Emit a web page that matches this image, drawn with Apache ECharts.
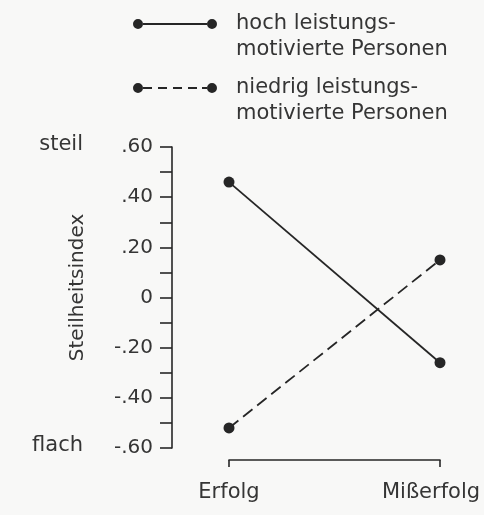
<!DOCTYPE html>
<html>
<head>
<meta charset="utf-8">
<script src="https://cdn.jsdelivr.net/npm/echarts@6/dist/echarts.min.js"></script>
<style>
html,body{margin:0;padding:0;background:#f8f8f7;}
#chart{width:484px;height:515px;}
</style>
</head>
<body>
<div id="chart"></div>
<script>
// ---- data ----
const categories = ['Erfolg', 'Mißerfolg'];
const seriesNames = ['hoch leistungs-\nmotivierte Personen', 'niedrig leistungs-\nmotivierte Personen'];
const hochValues = [0.46, -0.26];
const niedrigValues = [-0.52, 0.15];
const yTickValues = [-0.6, -0.4, -0.2, 0, 0.2, 0.4, 0.6];
const yTickLabels = ['-.60', '-.40', '-.20', '0', '.20', '.40', '.60'];
const yAxisName = 'Steilheitsindex';
const yEndLabels = ['flach', 'steil'];

// ---- style ----
const ink = '#262626';
const textInk = '#353535';
const font = 'DejaVu Sans';

const solidIcon = 'path://M0,5A5,5 0 1 1 10,5A5,5 0 1 1 0,5Z M10,4.1L74,4.1L74,5.9L10,5.9Z M74,5A5,5 0 1 1 84,5A5,5 0 1 1 74,5Z';
const dashedIcon = 'path://M0,5A5,5 0 1 1 10,5A5,5 0 1 1 0,5Z M10,4.1L19,4.1L19,5.9L10,5.9Z M25,4.1L34,4.1L34,5.9L25,5.9Z M40,4.1L49,4.1L49,5.9L40,5.9Z M55,4.1L64,4.1L64,5.9L55,5.9Z M69,4.1L74,4.1L74,5.9L69,5.9Z M74,5A5,5 0 1 1 84,5A5,5 0 1 1 74,5Z';

function legendCfg(name, icon, iconCenterY) {
  return {
    data: [name],
    icon: icon,
    left: 133,
    top: iconCenterY - 39,
    padding: 0,
    itemWidth: 84,
    itemHeight: 10,
    selectedMode: false,
    itemStyle: { borderWidth: 0 },
    // a blank first line keeps the first text line level with the icon
    formatter: function (n) { return ' \n' + n; },
    textStyle: {
      fontFamily: font, fontSize: 21, color: textInk,
      lineHeight: 26, padding: [0, 0, 0, 14]
    }
  };
}

const chart = echarts.init(document.getElementById('chart'), null, { renderer: 'canvas' });
chart.setOption({
  backgroundColor: '#f8f8f7',
  animation: false,
  textStyle: { fontFamily: font },
  legend: [
    legendCfg(seriesNames[0], solidIcon, 24),
    legendCfg(seriesNames[1], dashedIcon, 88)
  ],
  grid: { left: 229, right: 44, top: 147, bottom: 67, containLabel: false, outerBoundsMode: 'none' },
  xAxis: {
    type: 'category',
    data: categories,
    boundaryGap: false,
    offset: 12,
    axisLine: { show: true, onZero: false, lineStyle: { color: ink, width: 1.6 } },
    axisTick: { show: true, length: 7, lineStyle: { color: ink, width: 1.6 } },
    axisLabel: {
      margin: 22, fontSize: 21, color: textInk, fontFamily: font,
      formatter: function (v) { return v === categories[categories.length - 1] ? '{r|' + v + '}' : v; },
      rich: { r: { fontSize: 21, color: textInk, fontFamily: font, padding: [0, 18, 0, 0] } }
    },
    splitLine: { show: false }
  },
  yAxis: {
    type: 'value',
    min: -0.6, max: 0.6, interval: 0.2,
    offset: 57,
    name: yAxisName,
    nameLocation: 'middle',
    nameRotate: 90,
    nameGap: 84,
    nameTextStyle: { fontSize: 20, color: textInk, fontFamily: font, padding: [0, 0, 0, 20] },
    axisLine: { show: true, lineStyle: { color: ink, width: 1.6 } },
    axisTick: { show: true, length: 12, lineStyle: { color: ink, width: 1.6 } },
    minorTick: { show: true, splitNumber: 2, length: 12, lineStyle: { color: ink, width: 1.6 } },
    splitLine: { show: false },
    minorSplitLine: { show: false },
    axisLabel: {
      margin: 19, fontSize: 20, color: textInk, fontFamily: font,
      formatter: function (v) {
        for (let i = 0; i < yTickValues.length; i++) {
          if (Math.abs(yTickValues[i] - v) < 1e-9) return yTickLabels[i];
        }
        return '';
      }
    }
  },
  series: [
    {
      name: seriesNames[0], type: 'line', data: hochValues,
      symbol: 'circle', symbolSize: 11,
      itemStyle: { color: ink, borderWidth: 0 },
      lineStyle: { color: ink, width: 1.8, type: 'solid' }
    },
    {
      name: seriesNames[1], type: 'line', data: niedrigValues,
      symbol: 'circle', symbolSize: 11,
      itemStyle: { color: ink, borderWidth: 0 },
      lineStyle: { color: ink, width: 1.8, type: [12, 6] }
    }
  ]
});

// "steil" / "flach" end labels beside the y-axis extremes, positioned via the axis scale
function placeEndLabels() {
  const yTop = chart.convertToPixel({ gridIndex: 0 }, [0, 0.6])[1];
  const yBot = chart.convertToPixel({ gridIndex: 0 }, [0, -0.6])[1];
  chart.setOption({
    graphic: [
      { type: 'text', right: 484 - 83, top: yBot - 13, style: { text: yEndLabels[0], font: '21px "DejaVu Sans"', fill: textInk } },
      { type: 'text', right: 484 - 83, top: yTop - 13, style: { text: yEndLabels[1], font: '21px "DejaVu Sans"', fill: textInk } }
    ]
  });
}
placeEndLabels();
</script>
</body>
</html>
